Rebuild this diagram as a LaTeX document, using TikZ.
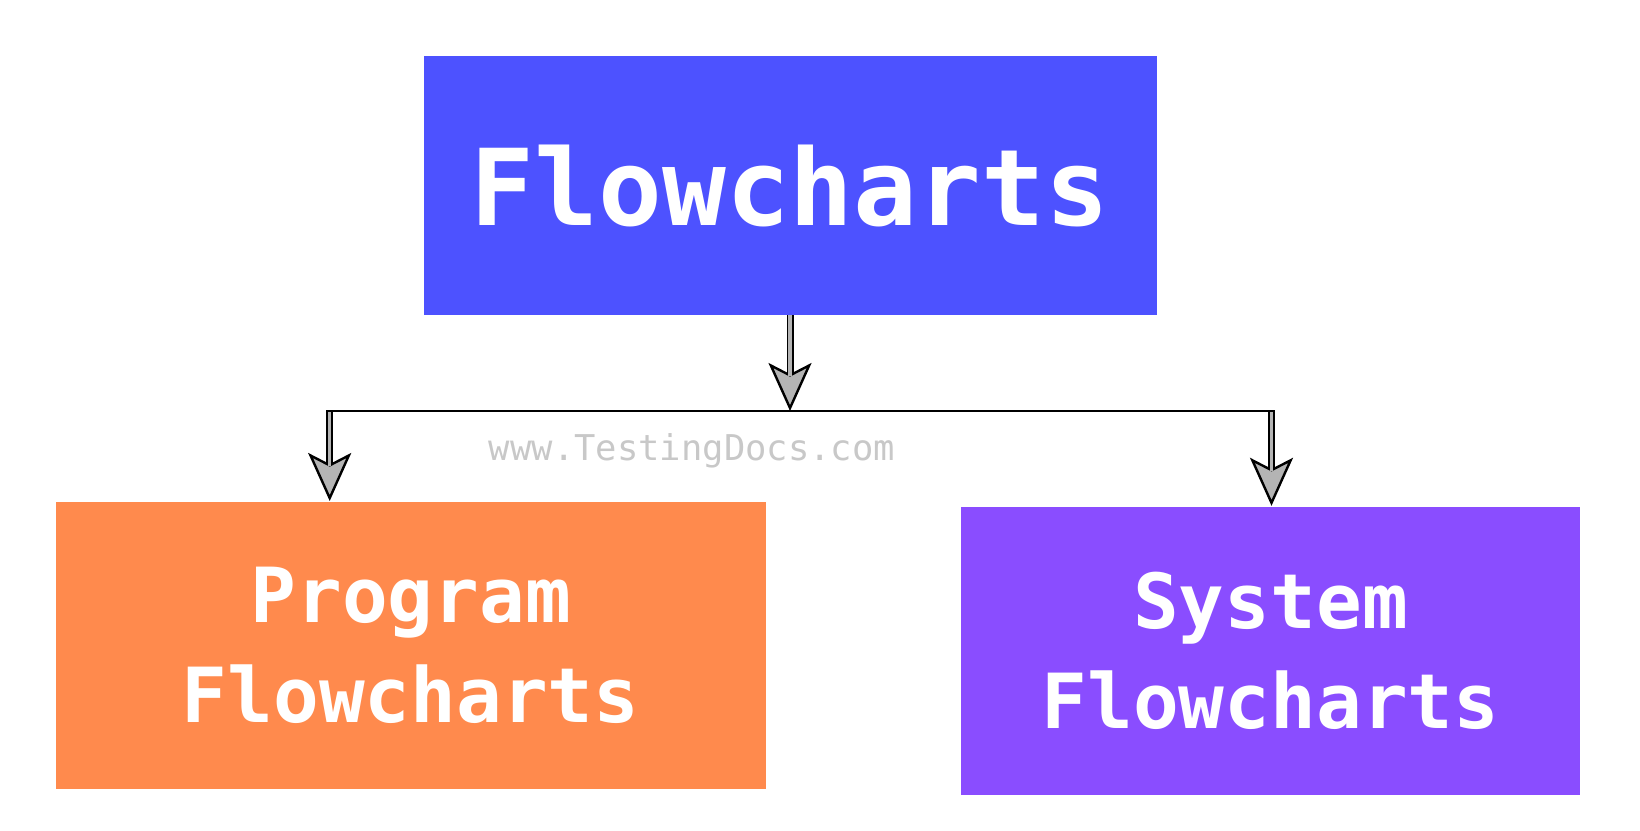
\documentclass[tikz,border=0pt]{standalone}
\usepackage{fontspec}
\setmonofont{DejaVu Sans Mono}
\usetikzlibrary{arrows.meta}
\definecolor{topblue}{HTML}{4D52FF}
\definecolor{progorange}{HTML}{FF8A4D}
\definecolor{syspurple}{HTML}{8A4DFF}
\definecolor{headgray}{HTML}{B4B4B4}
\definecolor{markgray}{HTML}{C8C8C8}

\begin{document}
\begin{tikzpicture}[
    x=1pt, y=-1pt,
    box/.style={rectangle, inner sep=0pt, text=white, align=center},
    fcarrow/.style={draw=black, line width=7pt,
      -{Stealth[length=48pt, width=43pt, inset=11pt, fill=headgray, line width=2.4pt]}},
    fcstem/.style={draw=headgray, line width=3.4pt, shorten >=35pt},
    bar/.style={draw=black, line width=2.2pt}
]

\useasboundingbox (0,0) rectangle (1640,830);

\node[box, fill=topblue, minimum width=733pt, minimum height=259pt,
  font=\ttfamily\bfseries\fontsize{106}{106}\selectfont] (flow) at (790,185.5) {Flowcharts};
\node[box, fill=progorange, minimum width=710pt, minimum height=287pt,
  font=\ttfamily\bfseries\fontsize{76}{100}\selectfont] (prog) at (410.7,645.7) {Program\\Flowcharts};
\node[box, fill=syspurple, minimum width=619pt, minimum height=288pt,
  font=\ttfamily\bfseries\fontsize{76}{100}\selectfont] (sys) at (1270.5,651) {System\\Flowcharts};

\node[text=markgray, font=\ttfamily\fontsize{35.5}{35.5}\selectfont, anchor=base] (mark) at (692,460) {www.TestingDocs.com};

\coordinate (split) at (790,411);
\coordinate (lb) at (329.7,411);
\coordinate (rb) at (1271.5,411);

\draw[fcarrow] (flow.south) -- (split);
\draw[fcstem] (flow.south) -- (split);
\draw[fcarrow] (lb) -- ([yshift=1pt]lb |- prog.north);
\draw[fcstem] (lb) -- ([yshift=1pt]lb |- prog.north);
\draw[fcarrow] (rb) -- ([yshift=1pt]rb |- sys.north);
\draw[fcstem] (rb) -- ([yshift=1pt]rb |- sys.north);

\draw[bar] ([xshift=-3.5pt]lb) -- ([xshift=3.5pt]rb);

\end{tikzpicture}
\end{document}
